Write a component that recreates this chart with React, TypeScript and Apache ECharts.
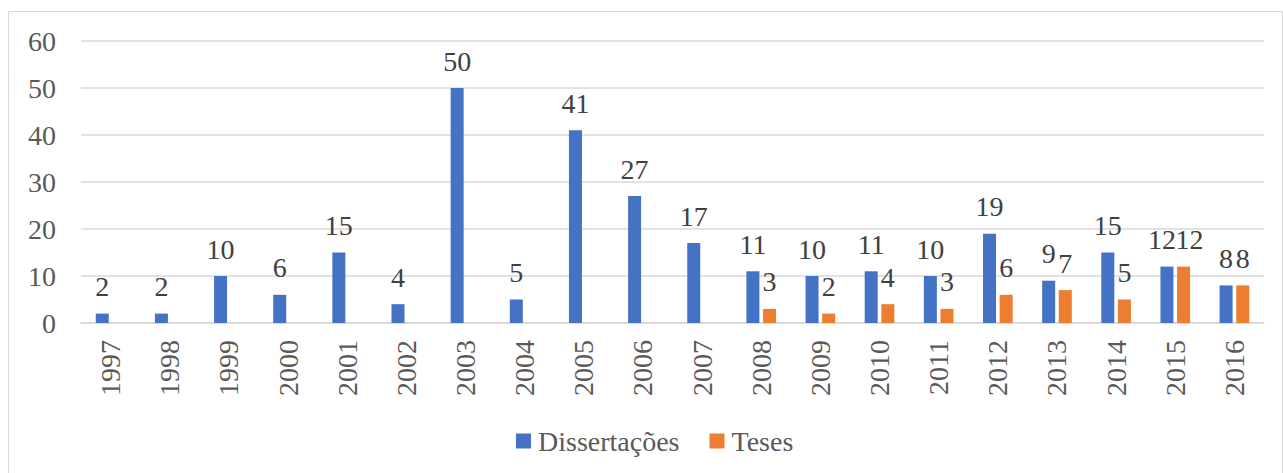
import React, { useEffect, useRef } from "react";
import * as echarts from "echarts";

const categories = ["1997","1998","1999","2000","2001","2002","2003","2004","2005","2006","2007","2008","2009","2010","2011","2012","2013","2014","2015","2016"];
const dissertacoes = [2,2,10,6,15,4,50,5,41,27,17,11,10,11,10,19,9,15,12,8];
const teses = [null,null,null,null,null,null,null,null,null,null,null,3,2,4,3,6,7,5,12,8];
const yTicks = { min: 0, max: 60, interval: 10 };

const FONT = "Liberation Serif";
// label nudges (style only) for the category where the two labels would collide
const labelNudge: Record<string, [number, number]> = { "2015": [-5, 6] };

export default function App() {
  const ref = useRef<HTMLDivElement>(null);
  useEffect(() => {
    if (!ref.current) return;
    const chart = echarts.init(ref.current, null, { renderer: "svg" });
    const label = {
      show: true,
      position: "top",
      distance: 13,
      fontFamily: FONT,
      fontSize: 28,
      color: "#404040",
    };
    const withNudge = (arr: (number | null)[], which: 0 | 1) =>
      arr.map((v, i) => {
        const n = labelNudge[categories[i]];
        if (!n || v == null) return v;
        return { value: v, label: { offset: [n[which], 0] } };
      });
    chart.setOption({
      animation: false,
      textStyle: { fontFamily: FONT },
      graphic: [
        {
          type: "rect",
          shape: { x: 8.5, y: 11.5, width: 1274, height: 470 },
          style: { fill: "none", stroke: "#d9d9d9", lineWidth: 1 },
          silent: true,
        },
      ],
      grid: { left: 81, right: 19, top: 41, bottom: 150 },
      legend: {
        left: 511,
        top: 422,
        itemWidth: 15,
        itemHeight: 15,
        itemGap: 30,
        icon: "rect",
        textStyle: { fontFamily: FONT, fontSize: 28, color: "#595959", padding: [0, 0, 0, 2] },
        data: ["Dissertações", "Teses"],
      },
      xAxis: {
        type: "category",
        data: categories,
        axisLine: { lineStyle: { color: "#d9d9d9", width: 1.5 } },
        axisTick: { show: false },
        axisLabel: {
          rotate: 90,
          margin: 17,
          fontFamily: FONT,
          fontSize: 28,
          color: "#595959",
        },
      },
      yAxis: {
        type: "value",
        min: yTicks.min,
        max: yTicks.max,
        interval: yTicks.interval,
        axisLine: { show: false },
        axisTick: { show: false },
        splitLine: { lineStyle: { color: "#d9d9d9", width: 1.5 } },
        axisLabel: {
          margin: 25,
          fontFamily: FONT,
          fontSize: 28,
          color: "#595959",
        },
      },
      series: [
        {
          name: "Dissertações",
          type: "bar",
          data: withNudge(dissertacoes, 0),
          barWidth: 13,
          barGap: "28%",
          itemStyle: { color: "#4472C4" },
          label,
        },
        {
          name: "Teses",
          type: "bar",
          data: withNudge(teses, 1),
          barWidth: 13,
          barGap: "28%",
          itemStyle: { color: "#ED7D31" },
          label,
        },
      ],
    });
    return () => chart.dispose();
  }, []);
  return (
    <div
      ref={ref}
      style={{ position: "absolute", left: 0, top: 0, width: 1283, height: 473, background: "#fff" }}
    />
  );
}
